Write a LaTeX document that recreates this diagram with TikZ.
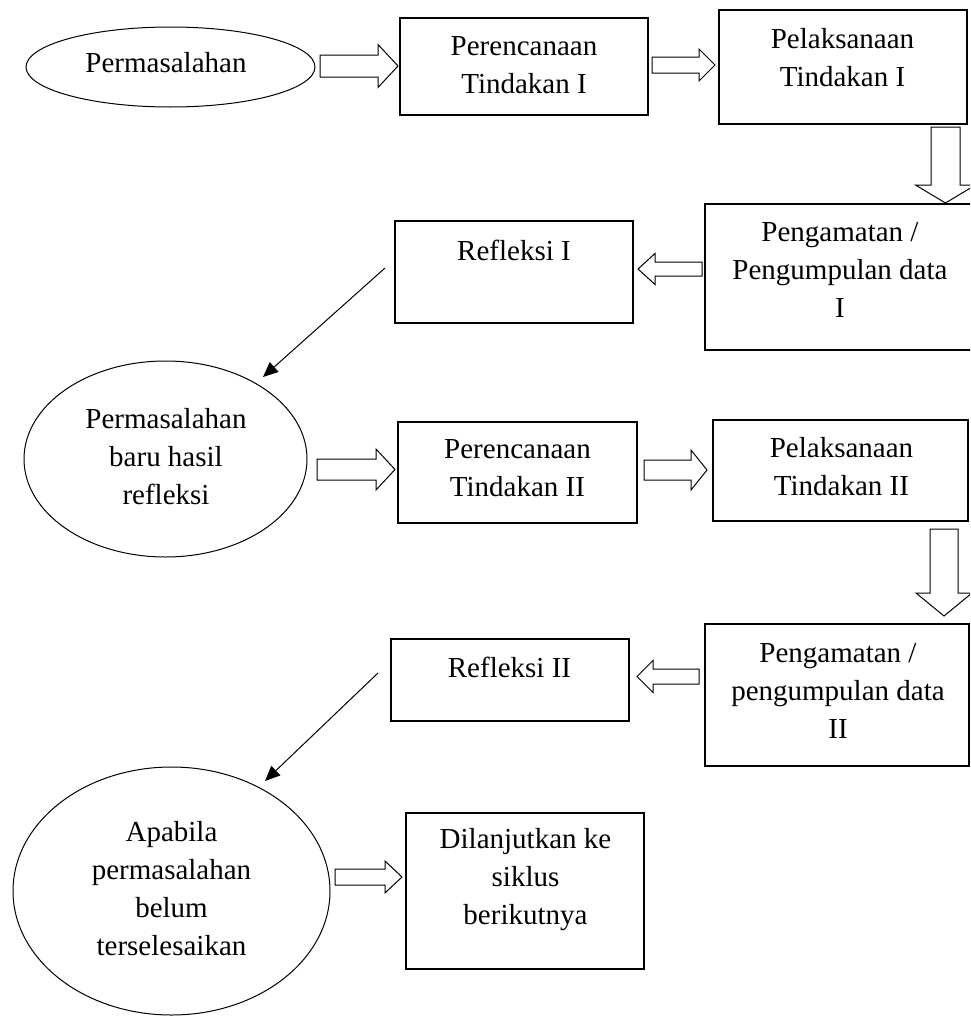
\documentclass[tikz,border=0pt]{standalone}
\usepackage{fontspec}
\setmainfont{Liberation Serif}
\usetikzlibrary{shapes.geometric,arrows.meta,calc}
% horizontal block arrow: tail, tip, body half-width, head half-width, head length
\newcommand\harr[5]{\draw[barrow] let \p1=(#1),\p2=(#2),\n1={sign(\x2-\x1)*#5} in
 (\x1,{\y1+#3pt}) -- ({\x2-\n1*1pt},{\y1+#3pt}) -- ({\x2-\n1*1pt},{\y1+#4pt}) -- (\x2,\y2)
 -- ({\x2-\n1*1pt},{\y1-#4pt}) -- ({\x2-\n1*1pt},{\y1-#3pt}) -- (\x1,{\y1-#3pt}) -- cycle;}
% vertical block arrow
\newcommand\varr[5]{\draw[barrow] let \p1=(#1),\p2=(#2),\n1={sign(\y2-\y1)*#5} in
 ({\x1-#3pt},\y1) -- ({\x1-#3pt},{\y2-\n1*1pt}) -- ({\x1-#4pt},{\y2-\n1*1pt}) -- (\x2,\y2)
 -- ({\x1+#4pt},{\y2-\n1*1pt}) -- ({\x1+#3pt},{\y2-\n1*1pt}) -- ({\x1+#3pt},\y1) -- cycle;}
\begin{document}
\begin{tikzpicture}[x=1pt,y=-1pt,
 box/.style={draw, line width=1.2pt, rectangle, inner sep=0pt},
 ell/.style={draw, line width=1pt, ellipse, inner sep=0pt},
 txt/.style={align=center, inner sep=0pt, font=\fontsize{29}{38}\selectfont},
 barrow/.style={draw, line width=1pt, fill=white, line join=miter},
 larrow/.style={line width=1pt, -{Triangle[length=15pt,width=13pt]}}]
\useasboundingbox (0,0) rectangle (970,1017);
\clip (0,0) rectangle (970,1017);
\fill[white] (0,0) rectangle (970,1017);

% shapes
\node[ell, minimum width=289pt, minimum height=80pt] (e1) at (170.5,67) {};
\node[box, minimum width=248pt, minimum height=97pt] (b1) at (524,66.5) {};
\node[box, minimum width=248pt, minimum height=114pt] (b2) at (843,67) {};
\node[box, minimum width=280pt, minimum height=146pt] (b3) at (845,277) {};
\node[box, minimum width=238pt, minimum height=102pt] (b4) at (514,272) {};
\node[ell, minimum width=283pt, minimum height=196pt] (e2) at (165.5,459) {};
\node[box, minimum width=239pt, minimum height=101pt] (b5) at (517.5,472.5) {};
\node[box, minimum width=255pt, minimum height=101pt] (b6) at (840.5,470.5) {};
\node[box, minimum width=264pt, minimum height=142pt] (b7) at (837,695) {};
\node[box, minimum width=238pt, minimum height=82pt] (b8) at (510,680) {};
\node[ell, minimum width=317pt, minimum height=248pt] (e3) at (171.5,891) {};
\node[box, minimum width=238pt, minimum height=156pt] (b9) at (525,891) {};

% texts
\node[txt] (t1) at (166,63) {Permasalahan};
\node[txt] (t2) at (524,65) {Perencanaan\\Tindakan I};
\node[txt] (t3) at (842.5,58) {Pelaksanaan\\Tindakan I};
\node[txt] (t4) at (840,270) {Pengamatan /\\Pengumpulan data\\I};
\node[txt] (t5) at (514,250) {Refleksi I};
\node[txt] (t6) at (166,457) {Permasalahan\\baru hasil\\refleksi};
\node[txt] (t7) at (517.5,468) {Perencanaan\\Tindakan II};
\node[txt] (t8) at (841.5,467) {Pelaksanaan\\Tindakan II};
\node[txt] (t9) at (838,691) {Pengamatan /\\pengumpulan data\\II};
\node[txt] (t10) at (509.5,667) {Refleksi II};
\node[txt] (t11) at (171.5,889) {Apabila\\permasalahan\\belum\\terselesaikan};
\node[txt] (t12) at (525.5,880) {Dilanjutkan ke\\siklus\\berikutnya};

% arrow end points
\coordinate (a1s) at (320,66);   \coordinate (a1e) at (398,66);
\coordinate (a2s) at (652,65);   \coordinate (a2e) at (715,65);
\coordinate (d1s) at (945.5,127); \coordinate (d1e) at (945.5,203);
\coordinate (l1s) at (702,269);  \coordinate (l1e) at (638,269);
\coordinate (r1s) at (385,268);  \coordinate (r1e) at (263,377);
\coordinate (a3s) at (317,469.5); \coordinate (a3e) at (395,469.5);
\coordinate (a4s) at (644,470);  \coordinate (a4e) at (707,470);
\coordinate (d2s) at (944,529);  \coordinate (d2e) at (944,616);
\coordinate (l2s) at (699,676.5); \coordinate (l2e) at (637,676.5);
\coordinate (r2s) at (378,673);  \coordinate (r2e) at (265,781);
\coordinate (a5s) at (335,877);  \coordinate (a5e) at (402,877);

% block arrows
\harr{a1s}{a1e}{11}{21.5}{20}
\harr{a2s}{a2e}{8}{16}{16}
\varr{d1s}{d1e}{14.5}{30}{18}
\harr{l1s}{l1e}{7}{15.5}{17}
\harr{a3s}{a3e}{10.5}{20.5}{19}
\harr{a4s}{a4e}{10}{20}{16}
\varr{d2s}{d2e}{14}{28}{23}
\harr{l2s}{l2e}{7.5}{16}{16}
\harr{a5s}{a5e}{8}{16}{17}

% line arrows
\draw[larrow] (r1s) -- (r1e);
\draw[larrow] (r2s) -- (r2e);
\end{tikzpicture}
\end{document}
